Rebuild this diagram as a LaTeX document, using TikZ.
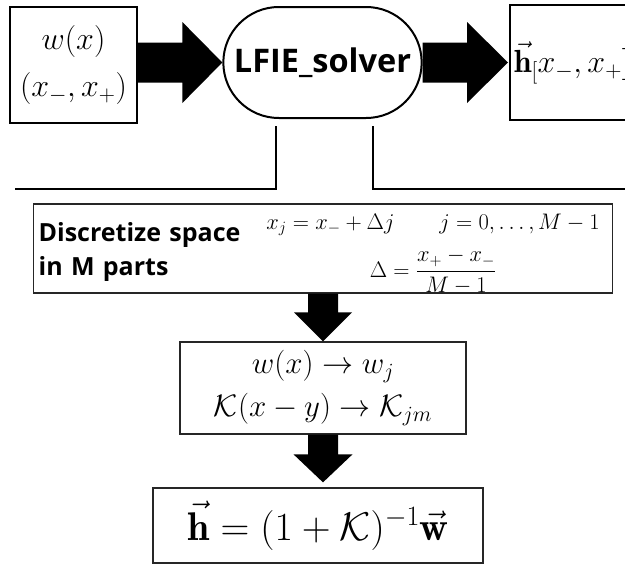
\RequirePackage{fix-cm}
\documentclass[tikz,border=0pt]{standalone}
\usepackage{amsmath}
\usepackage{fontspec}
\newfontfamily\osans{Open Sans}
\usetikzlibrary{calc,shapes.misc}
\newcommand{\fatH}[5]{% start, tip, half shaft, half head, head length
  \fill ($(#1)+(0,-#3)$) -- ($(#2)+(-#5,-#3)$) -- ($(#2)+(-#5,-#4)$) -- (#2)
        -- ($(#2)+(-#5,#4)$) -- ($(#2)+(-#5,#3)$) -- ($(#1)+(0,#3)$) -- cycle;}
\newcommand{\fatV}[5]{%
  \fill ($(#1)+(-#3,0)$) -- ($(#2)+(-#3,-#5)$) -- ($(#2)+(-#4,-#5)$) -- (#2)
        -- ($(#2)+(#4,-#5)$) -- ($(#2)+(#3,-#5)$) -- ($(#1)+(#3,0)$) -- cycle;}
\begin{document}
\begin{tikzpicture}[x=1pt,y=-1pt,
  frame/.style={draw, line width=1.6pt, inner sep=0pt},
  thinframe/.style={draw, line width=1.3pt, color=black!85, text=black, inner sep=0pt},
  bracket/.style={line width=2pt}]
\useasboundingbox (0,0) rectangle (625,565);
\clip (0,0) rectangle (625,565);

\node[frame, minimum width=127pt, minimum height=116pt, align=center,
      font=\fontsize{32}{47}\selectfont] (in) at (73.5,65) {$w(x)$\\$(x_-,x_+)$};
\node[draw, rounded rectangle, line width=2pt, minimum width=205pt, minimum height=111pt,
      font=\osans\bfseries\fontsize{32.5}{38}\selectfont] (solver) at (322.5,62.5) {LFIE\_solver};
\node[frame, minimum height=115pt, text width=192pt, align=left, inner sep=4pt, anchor=west,
      font=\fontsize{32}{38}\selectfont] (out) at (509,62.5) {$\vec{\mathbf{h}}_[x_-,x_+]$};

\coordinate (a1s) at (in.east |- solver.west);
\fatH{a1s}{solver.west}{20}{40.5}{40}
\coordinate (a2s) at (solver.east);
\coordinate (a2t) at ($(out.west)+(-1,0)$);
\fatH{a2s}{a2t}{20}{40.5}{41}

\coordinate (lb) at (15,189);
\coordinate (rb) at (630,189);
\draw[bracket] (lb) -| ($(solver.south)+(-46.5,7)$);
\draw[bracket] ($(solver.south)+(50.5,7)$) |- (rb);

\node[thinframe, minimum height=89pt, text width=569pt, inner sep=5pt, align=left, anchor=west,
      font=\osans\bfseries\fontsize{25}{34}\selectfont] (disc) at (33,248.5)
  {\rule{0pt}{27pt}Discretize space\\in M parts};
\node[font=\fontsize{22.5}{48}\selectfont, align=center, inner sep=0pt] (dmath) at (433,254)
  {$x_j = x_- + \Delta j \qquad j = 0,\ldots,M-1$\\$\displaystyle\Delta = \frac{x_+ - x_-}{M-1}$};

\node[thinframe, minimum width=286pt, minimum height=92pt, align=center,
      font=\fontsize{31}{43}\selectfont] (box2) at (323,388)
  {$w(x) \rightarrow w_j$\\$\mathcal{K}(x-y) \rightarrow \mathcal{K}_{jm}$};
\node[thinframe, minimum width=330pt, minimum height=75pt,
      font=\fontsize{40}{45}\selectfont] (box3) at (318,525.5)
  {$\vec{\mathbf{h}} = (1+\mathcal{K})^{-1}\vec{\mathbf{w}}$};

\coordinate (v1s) at (disc.south -| box2.north);
\fatV{v1s}{box2.north}{15}{29}{29}
\coordinate (v2s) at (box2.south);
\coordinate (v2t) at ($(box3.north -| box2.south)+(0,-5)$);
\fatV{v2s}{v2t}{15}{29.5}{28}
\end{tikzpicture}
\end{document}
